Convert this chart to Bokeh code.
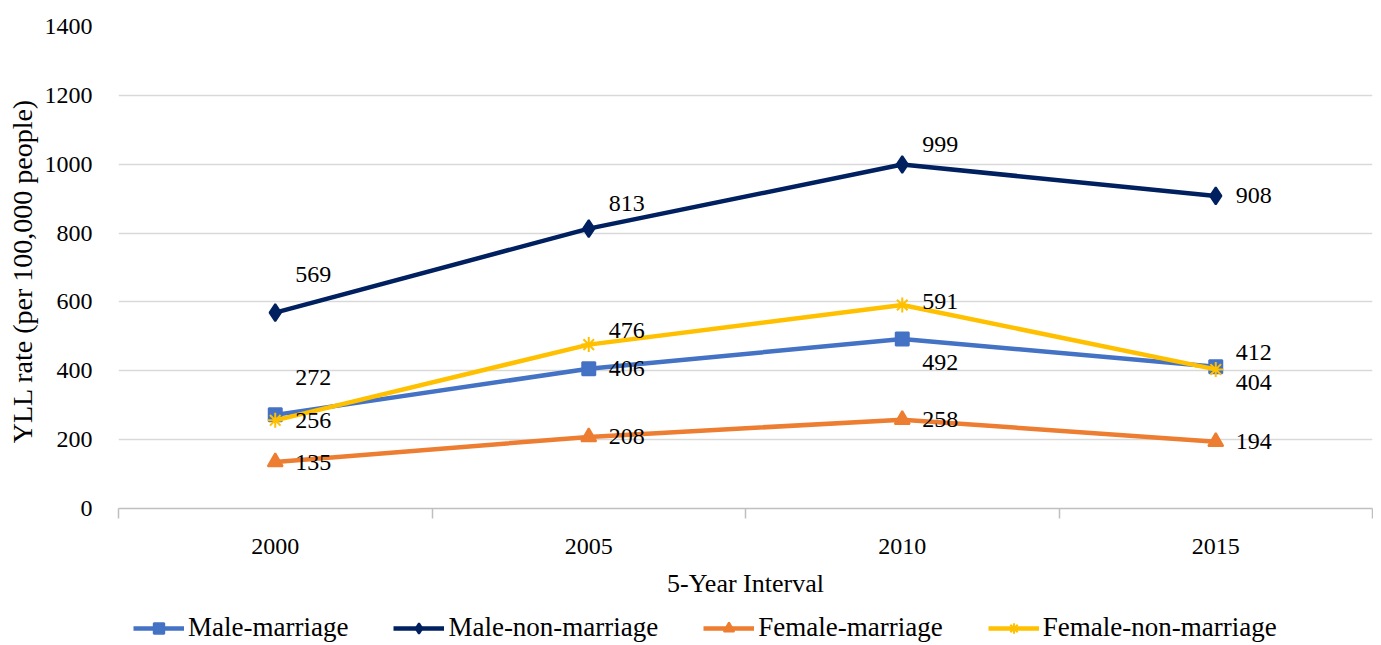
from bokeh.plotting import figure
from bokeh.layouts import column
from bokeh.models import FixedTicker, Legend, LegendItem, ColumnDataSource
from bokeh.embed import file_html
from bokeh.resources import INLINE
from bokeh.core.properties import value

# ---- data ----
years = ["2000", "2005", "2010", "2015"]
male_marriage = [272, 406, 492, 412]
male_non_marriage = [569, 813, 999, 908]
female_marriage = [135, 208, 258, 194]
female_non_marriage = [256, 476, 591, 404]
y_ticks = [0, 200, 400, 600, 800, 1000, 1200, 1400]

# ---- style ----
FONT = "Liberation Serif"
series = [
    ("Male-marriage", male_marriage, "#4472C4", "square", 13, [-37, 0, 23, -14]),
    ("Male-non-marriage", male_non_marriage, "#002060", "diamond", 17, [-38, -25, -20, 0]),
    ("Female-marriage", female_marriage, "#ED7D31", "triangle", 15, [0, 0, 0, 0]),
    ("Female-non-marriage", female_non_marriage, "#FFC000", "asterisk", 15, [0, -14, -4, 13]),
]
LINE_W = 4.5

xs = list(range(len(years)))

p = figure(frame_width=1254, frame_height=482, x_range=(-0.5, len(years) - 0.5), y_range=(0, 1400),
           output_backend="svg", toolbar_location=None,
           min_border_left=118, min_border_right=1, min_border_top=26, min_border_bottom=0)
p.outline_line_color = None
p.background_fill_color = "white"
p.border_fill_color = "white"

# x axis
p.xaxis.ticker = FixedTicker(ticks=xs, minor_ticks=[i - 0.5 for i in range(len(years) + 1)])
p.xaxis.major_label_overrides = {i: y for i, y in enumerate(years)}
p.xaxis.major_tick_line_color = None
p.xaxis.major_tick_out = 0
p.xaxis.major_tick_in = 0
p.xaxis.minor_tick_line_color = "#BFBFBF"
p.xaxis.minor_tick_out = 10
p.xaxis.minor_tick_in = 0
p.xaxis.minor_tick_line_width = 1.5
p.xaxis.axis_line_color = "#BFBFBF"
p.xaxis.axis_line_width = 1.5
p.xaxis.major_label_text_font = FONT
p.xaxis.major_label_text_font_size = "24px"
p.xaxis.major_label_text_color = "#000000"
p.xaxis.major_label_standoff = 20
p.xaxis.axis_label = "5-Year Interval"
p.xaxis.axis_label_text_font = FONT
p.xaxis.axis_label_text_font_size = "26px"
p.xaxis.axis_label_text_font_style = "normal"
p.xaxis.axis_label_text_color = "#000000"
p.xaxis.axis_label_standoff = 12

# y axis
p.yaxis.ticker = FixedTicker(ticks=y_ticks)
p.yaxis.axis_line_color = None
p.yaxis.major_tick_line_color = None
p.yaxis.minor_tick_line_color = None
p.yaxis.major_tick_out = 0
p.yaxis.major_label_text_font = FONT
p.yaxis.major_label_text_font_size = "24px"
p.yaxis.major_label_text_color = "#000000"
p.yaxis.major_label_standoff = 26
p.yaxis.axis_label = "YLL rate  (per 100,000 people)"
p.yaxis.axis_label_text_font = FONT
p.yaxis.axis_label_text_font_size = "28px"
p.yaxis.axis_label_text_font_style = "normal"
p.yaxis.axis_label_text_color = "#000000"
p.yaxis.axis_label_standoff = 4

p.xgrid.grid_line_color = None
p.ygrid.grid_line_color = "#D9D9D9"
p.ygrid.grid_line_width = 1.5

# legend strip (separate figure below the chart; its frame aligns with the chart's frame)
lg = figure(width=1373, height=45, x_range=(0, 1), y_range=(0, 1),
            output_backend="svg", toolbar_location=None,
            x_axis_type=None, y_axis_type=None,
            min_border_left=0, min_border_right=0, min_border_top=0, min_border_bottom=0)
lg.outline_line_color = None
lg.xgrid.grid_line_color = None
lg.ygrid.grid_line_color = None

items = []
for name, vals, color, marker, msize, dys in series:
    src = ColumnDataSource(dict(x=xs, y=vals, lbl=[str(v) for v in vals], dy=dys))
    p.line("x", "y", source=src, line_color=color, line_width=LINE_W)
    p.scatter("x", "y", source=src, marker=marker, size=msize,
              fill_color=color, line_color=color, line_width=2)
    p.text("x", "y", text="lbl", source=src, x_offset=20, y_offset="dy",
           text_font=value(FONT), text_font_size="24px", text_color="#000000",
           text_align="left", text_baseline="middle")
    # legend keys: same series in the strip, whose ranges keep the marks out of view
    kl = lg.line("x", "y", source=src, line_color=color, line_width=LINE_W)
    ks = lg.scatter("x", "y", source=src, marker=marker, size=msize,
                    fill_color=color, line_color=color, line_width=2)
    items.append(LegendItem(label=name, renderers=[kl, ks]))

legend = Legend(items=items, orientation="horizontal", location=(15, 2),
                glyph_width=51, glyph_height=26, label_standoff=4, spacing=45,
                label_text_font=FONT, label_text_font_size="27px", label_text_color="#000000",
                padding=0, margin=0, border_line_color=None, background_fill_alpha=0)
lg.add_layout(legend, "center")

open("out.html", "w").write(file_html(column(p, lg, spacing=0), INLINE))
